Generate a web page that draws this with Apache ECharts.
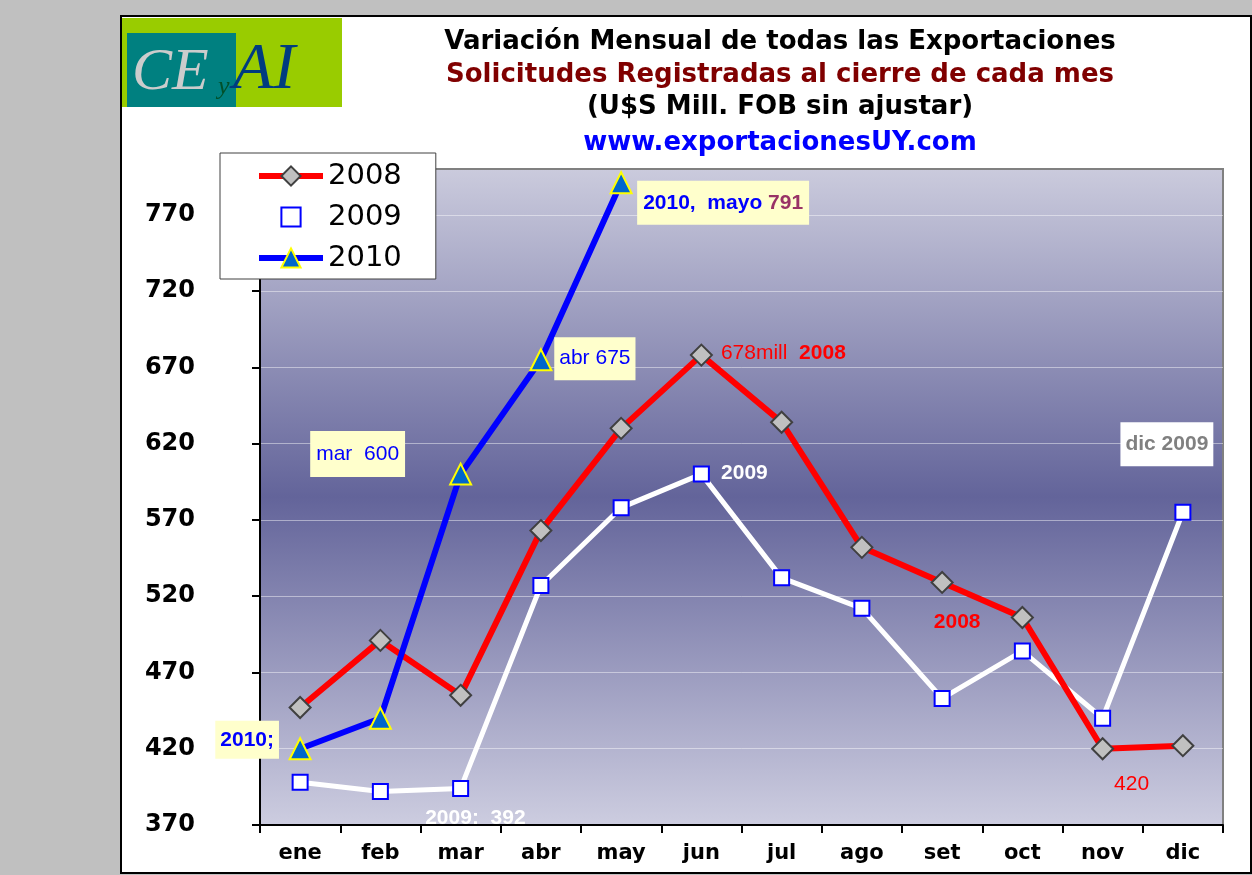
<!DOCTYPE html>
<html>
<head>
<meta charset="utf-8">
<script src="https://cdn.jsdelivr.net/npm/echarts@6/dist/echarts.min.js"></script>
<style>
  html, body { margin: 0; padding: 0; background: #c0c0c0; }
  #chart { width: 1252px; height: 875px; }
</style>
</head>
<body>
<div id="chart"></div>
<script>
// datos
var meses = ['ene', 'feb', 'mar', 'abr', 'may', 'jun', 'jul', 'ago', 'set', 'oct', 'nov', 'dic']
var v2008 = [447, 491, 455, 563, 630, 678, 634, 552, 529, 506, 420, 422]
var v2009 = [398, 392, 394, 527, 578, 600, 532, 512, 453, 484, 440, 575]
var v2010 = [420, 440, 600, 675, 791]
var yTicks = [370, 420, 470, 520, 570, 620, 670, 720, 770]

var chart = echarts.init(document.getElementById('chart'))

var amarillo = '#ffffcc'
var fuente = 'Liberation Sans, Arial, sans-serif'

// etiqueta sobre un punto: centro desplazado [dx, dy] del simbolo
function etiqueta(texto, dx, dy, extra) {
  var l = {
    show: true,
    position: 'inside',
    align: 'center',
    verticalAlign: 'middle',
    offset: [dx, dy],
    formatter: texto,
    fontFamily: fuente,
    fontSize: 21
  }
  for (var k in extra) l[k] = extra[k]
  return l
}

var d2008 = v2008.map(function (v) { return { value: v } })
d2008[5].label = etiqueta('{a|678mill}  {b|2008}', 82, -2, {
  rich: {
    a: { color: '#ff0000', fontSize: 21, fontFamily: fuente },
    b: { color: '#ff0000', fontSize: 21, fontWeight: 'bold', fontFamily: fuente }
  }
})
d2008[8].label = etiqueta('2008', 15, 40, { color: '#ff0000', fontWeight: 'bold' })
d2008[10].label = etiqueta('420', 29, 35, { color: '#ff0000' })

var d2009 = v2009.map(function (v) { return { value: v } })
d2009[1].label = etiqueta('2009:  392', 95, 27, { color: '#ffffff', fontWeight: 'bold' })
d2009[5].label = etiqueta('2009', 43, -1, { color: '#ffffff', fontWeight: 'bold' })
d2009[11].label = etiqueta('dic 2009', -16, -68, {
  color: '#808080', fontWeight: 'bold', backgroundColor: '#ffffff', padding: [12, 5, 11, 5]
})

var d2010 = v2010.map(function (v) { return { value: v } })
d2010[0].label = etiqueta('2010;', -53, -9, {
  color: '#0000ff', fontWeight: 'bold', backgroundColor: amarillo, padding: [9, 5, 8, 5]
})
d2010[2].label = etiqueta('mar  600', -103, -20, {
  color: '#0000ff', backgroundColor: amarillo, padding: [13, 6, 12, 6]
})
d2010[3].label = etiqueta('abr 675', 54, -1, {
  color: '#0000ff', backgroundColor: amarillo, padding: [11, 5, 11, 5]
})
d2010[4].label = etiqueta('{a|2010,  mayo} {b|791}', 102, 20, {
  backgroundColor: amarillo, padding: [12, 6, 11, 6],
  rich: {
    a: { color: '#0000ff', fontSize: 21, fontWeight: 'bold', fontFamily: fuente },
    b: { color: '#993366', fontSize: 21, fontWeight: 'bold', fontFamily: fuente }
  }
})

var titulos = [
  { y: 42, text: 'Variación Mensual de todas las Exportaciones', color: '#000000' },
  { y: 75, text: 'Solicitudes Registradas al cierre de cada mes', color: '#800000' },
  { y: 107, text: '(U$S Mill. FOB sin ajustar)', color: '#000000' },
  { y: 143, text: 'www.exportacionesUY.com', color: '#0000ff' }
]

var graficos = [
  // panel blanco
  {
    type: 'rect', z: -10, silent: true,
    shape: { x: 121, y: 16, width: 1130, height: 857 },
    style: { fill: '#ffffff', stroke: '#000000', lineWidth: 2 }
  },
  // logo CE y AI
  {
    type: 'rect', z: 10,
    shape: { x: 122, y: 18, width: 220, height: 89 },
    style: { fill: '#99cc00' }
  },
  {
    type: 'rect', z: 11,
    shape: { x: 127, y: 33, width: 109, height: 74 },
    style: { fill: '#008080' }
  },
  {
    type: 'text', z: 12, x: 132, y: 103,
    style: { text: 'CE', fill: '#cccccc', font: 'italic 60px "Liberation Serif", serif', textVerticalAlign: 'bottom' }
  },
  {
    type: 'text', z: 12, x: 218, y: 100,
    style: { text: 'y', fill: '#00502a', font: 'italic 26px "Liberation Serif", serif', textVerticalAlign: 'bottom' }
  },
  {
    type: 'text', z: 12, x: 233, y: 104,
    style: { text: 'AI', fill: '#003c80', font: 'italic 66px "Liberation Serif", serif', textVerticalAlign: 'bottom' }
  }
]
titulos.forEach(function (t) {
  graficos.push({
    type: 'text', z: 12, x: 780, y: t.y,
    style: {
      text: t.text, fill: t.color,
      font: 'bold 26px "DejaVu Sans", Verdana, sans-serif',
      textAlign: 'center', textVerticalAlign: 'middle'
    }
  })
})

chart.setOption({
  backgroundColor: '#c0c0c0',
  animation: false,
  graphic: graficos,
  legend: {
    left: 220,
    top: 153,
    orient: 'vertical',
    backgroundColor: '#ffffff',
    borderColor: '#404040',
    borderWidth: 1,
    borderRadius: 0,
    padding: [7, 34, 5, 36],
    itemWidth: 64,
    itemHeight: 24,
    itemGap: 9,
    lineStyle: { width: 6 },
    textStyle: { fontSize: 29, lineHeight: 32, color: '#000', fontFamily: 'DejaVu Sans, sans-serif' },
    data: ['2008', '2009', '2010']
  },
  grid: {
    left: 260,
    right: 29,
    top: 169,
    bottom: 50,
    show: true,
    borderColor: '#808080',
    borderWidth: 2,
    backgroundColor: new echarts.graphic.LinearGradient(0, 0, 0, 1, [
      { offset: 0, color: '#cbcbdd' },
      { offset: 0.5, color: '#63649a' },
      { offset: 1, color: '#cdcde0' }
    ])
  },
  xAxis: {
    type: 'category',
    data: meses,
    boundaryGap: true,
    axisLine: { lineStyle: { color: '#000', width: 2 } },
    axisTick: { show: true, length: 8, lineStyle: { color: '#000', width: 2 } },
    axisLabel: {
      color: '#000', fontSize: 21, fontWeight: 'bold', margin: 18,
      fontFamily: 'DejaVu Sans, Verdana, sans-serif'
    }
  },
  yAxis: {
    type: 'value',
    min: 370,
    max: 800,
    axisLine: { show: true, lineStyle: { color: '#000', width: 2 } },
    axisTick: { show: true, length: 8, customValues: yTicks, lineStyle: { color: '#000', width: 2 } },
    axisLabel: {
      customValues: yTicks,
      color: '#000', fontSize: 24, fontWeight: 'bold', margin: 65,
      fontFamily: 'DejaVu Sans, Verdana, sans-serif'
    },
    splitLine: { show: true, lineStyle: { color: 'rgba(255,255,255,0.45)', width: 1 } }
  },
  series: [
    {
      name: '2008',
      type: 'line',
      data: d2008,
      symbol: 'diamond',
      symbolSize: 21,
      lineStyle: { color: '#ff0000', width: 6 },
      itemStyle: { color: '#c0c0c0', borderColor: '#404040', borderWidth: 2 },
      z: 3
    },
    {
      name: '2009',
      type: 'line',
      data: d2009,
      symbol: 'rect',
      symbolSize: 15,
      lineStyle: { color: '#ffffff', width: 5 },
      itemStyle: { color: '#ffffff', borderColor: '#0000ff', borderWidth: 2 },
      z: 2
    },
    {
      name: '2010',
      type: 'line',
      data: d2010,
      symbol: 'triangle',
      symbolSize: 21,
      lineStyle: { color: '#0000ff', width: 6 },
      itemStyle: { color: '#0066cc', borderColor: '#ffff00', borderWidth: 2 },
      z: 4
    }
  ]
})
</script>
</body>
</html>
